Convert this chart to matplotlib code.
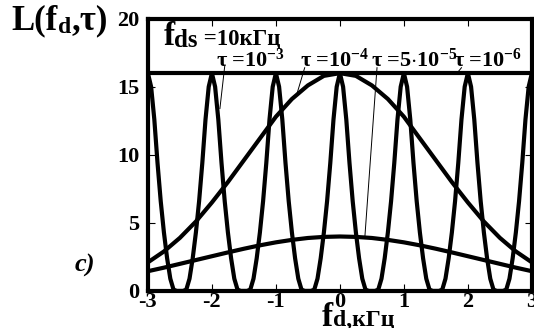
import numpy as np
import matplotlib
matplotlib.use("Agg")
from matplotlib import pyplot as plt

plt.rcParams['font.family'] = ['Liberation Serif', 'DejaVu Serif']
plt.rcParams['font.weight'] = 'bold'
plt.rcParams['mathtext.fontset'] = 'custom'
plt.rcParams['mathtext.rm'] = 'Liberation Serif:bold'
plt.rcParams['mathtext.it'] = 'Liberation Serif:bold'
plt.rcParams['mathtext.bf'] = 'Liberation Serif:bold'

# tau = 1e-3 : one half period (offset 0 .. 0.5 kHz from a peak)
osc_offsets = [0.0, 0.05, 0.1, 0.15, 0.2, 0.25, 0.3, 0.35, 0.4, 0.45, 0.5]
osc_profile = [16.0, 15.0, 12.6, 9.4, 6.6, 4.3, 2.4, 0.9, 0.1, 0.0, 0.0]
osc_peaks = [-3, -2, -1, 0, 1, 2, 3]

# tau = 1e-4 and tau = 5e-5 : symmetric bells, read at |fd| = 0 .. 3 kHz
bell_f = [0.0, 0.25, 0.5, 0.75, 1.0, 1.25, 1.5, 1.75, 2.0, 2.25, 2.5, 2.75, 3.0]
bell_hi = [16.0, 15.8, 15.1, 14.1, 12.8, 11.2, 9.6, 8.0, 6.5, 5.1, 3.9, 2.9, 2.1]
bell_lo = [4.0, 3.97, 3.89, 3.75, 3.57, 3.35, 3.1, 2.83, 2.55, 2.27, 1.99, 1.71, 1.45]

# tau = 1e-6 : flat
flat_f = [-3, 3]
flat_v = [16, 16]

xticks = [-3, -2, -1, 0, 1, 2, 3]
yticks = [0, 5, 10, 15, 20]

# build full curves from the read halves
off = np.array(osc_offsets)
prof = np.array(osc_profile)
ox, oy = [], []
for p in osc_peaks:
    xs = np.concatenate([p - off[::-1], p + off[1:]])
    ys = np.concatenate([prof[::-1], prof[1:]])
    m = (xs >= -3) & (xs <= 3)
    ox.append(xs[m]); oy.append(ys[m])
ox = np.concatenate(ox); oy = np.concatenate(oy)
order = np.argsort(ox, kind='stable')
ox, oy = ox[order], oy[order]

bf = np.array(bell_f)
bx = np.concatenate([-bf[::-1], bf[1:]])
bh = np.concatenate([np.array(bell_hi)[::-1], bell_hi[1:]])
bl = np.concatenate([np.array(bell_lo)[::-1], bell_lo[1:]])

fig = plt.figure(figsize=(5.34, 3.28), dpi=100)
ax = fig.add_axes([0.277, 0.113, 0.719, 0.83])

lw = 3.0
ax.plot(ox, oy, color='black', lw=lw, solid_joinstyle='round')
ax.plot(bx, bh, color='black', lw=lw)
ax.plot(bx, bl, color='black', lw=lw)
ax.plot(flat_f, flat_v, color='black', lw=lw)

ax.set_xlim(-3, 3)
ax.set_ylim(0, 20)
ax.set_xticks(xticks)
ax.set_yticks(yticks)
ax.set_xticklabels(['-3', '-2', '-1', '0', '1', '2', '3'])
ax.tick_params(direction='in', length=5, width=0.8, labelsize=16,
               top=True, right=True)
ax.tick_params(axis='x', pad=1)
ax.tick_params(axis='y', pad=6)
for lab in ax.get_xticklabels() + ax.get_yticklabels():
    lab.set_fontweight('bold')
for s in ax.spines.values():
    s.set_linewidth(3)

# legend-like texts inside the frame
t = ax.text(-2.76, 17.55, 'f', fontsize=24, va='bottom', ha='left')
t = ax.annotate('ds', xy=(1, 0), xycoords=t, fontsize=18, va='bottom', ha='left')
ax.annotate(' =10кГц', xy=(1, 0.1), xycoords=t, fontsize=16.5, va='bottom', ha='left')

tsz = 16
ax.text(-1.93, 16.95, r'$\tau$ =10$^{-3}$', fontsize=tsz, va='center', ha='left')
ax.text(-0.62, 16.95, r'$\tau$ =10$^{-4}$', fontsize=tsz, va='center', ha='left')
ax.text(0.49, 16.95, r'$\tau$ =5$\cdot$10$^{-5}$', fontsize=tsz, va='center', ha='left')
ax.text(1.77, 16.95, r'$\tau$ =10$^{-6}$', fontsize=tsz, va='center', ha='left')

# leader lines
leads = [((-1.80, 16.5), (-1.875, 13.4)),
         ((-0.55, 16.4), (-0.67, 14.5)),
         ((0.58, 16.4), (0.39, 3.95)),
         ((1.9, 16.4), (1.83, 16.0))]
for a, b in leads:
    ax.plot([a[0], b[0]], [a[1], b[1]], color='black', lw=0.7)

t = fig.text(0.022, 0.885, 'L(f', fontsize=25, va='bottom', ha='left')
t = ax.annotate('d', xy=(1, 0), xycoords=t, fontsize=17, va='bottom', ha='left')
ax.annotate(',τ)', xy=(1, 0), xycoords=t, fontsize=25, va='bottom', ha='left',
            annotation_clip=False)

fig.text(0.14, 0.19, 'c)', fontsize=19, style='italic', va='center', ha='left')

t = fig.text(0.602, -0.014, 'f', fontsize=24, va='bottom', ha='left')
ax.annotate('d,кГц', xy=(1, 0.05), xycoords=t, fontsize=17, va='bottom', ha='left',
            annotation_clip=False)

fig.savefig('out.png', dpi=100)
